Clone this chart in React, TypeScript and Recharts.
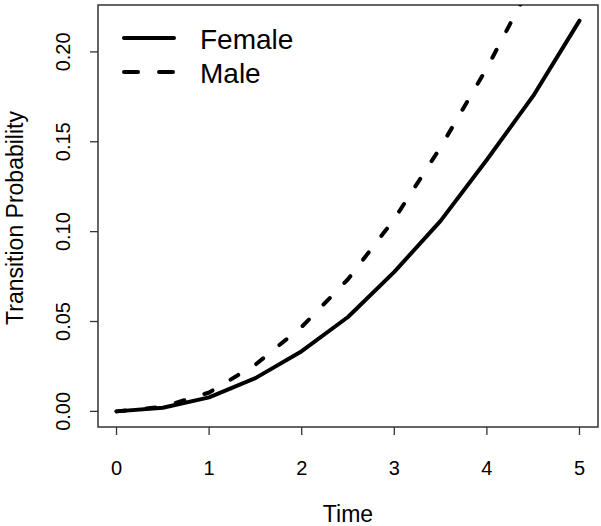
import React from "react";
import { LineChart, Line, XAxis, YAxis, ReferenceArea } from "recharts";

// values, every half time unit
const times = [0, 0.5, 1, 1.5, 2, 2.5, 3, 3.5, 4, 4.5, 5];
const female = [0, 0.002, 0.0078, 0.0185, 0.0335, 0.0525, 0.0776, 0.106, 0.14, 0.1755, 0.2174];
const male = [0, 0.0025, 0.0105, 0.026, 0.047, 0.0735, 0.107, 0.147, 0.191, 0.24, 0.294];

const seriesNames = ["Female", "Male"];
const xTicks = [0, 1, 2, 3, 4, 5];
const yTicks = [0, 0.05, 0.1, 0.15, 0.2];
const yTickLabels = ["0.00", "0.05", "0.10", "0.15", "0.20"];

const FONT = "'Liberation Sans', Arial, Helvetica, sans-serif";
const MALE_DASH = "9 21";
const TICK_FONT = 20;

// R style axis padding: 4% on each side of the data range
const xMin = Math.min(...times);
const xMax = Math.max(...times);
const yMax = Math.max(...female);
const xDomain: [number, number] = [xMin - 0.04 * (xMax - xMin), xMax + 0.04 * (xMax - xMin)];
const yDomain: [number, number] = [-0.04 * yMax, 1.04 * yMax];

const data = times.map((t, i) => ({ time: t, female: female[i], male: male[i] }));

const XTick = (props: any) => {
  const { x, payload } = props;
  return (
    <text x={x} y={475} textAnchor="middle" style={{ fontSize: TICK_FONT, fontFamily: FONT }} fill="#000">
      {payload.value}
    </text>
  );
};

const YTick = (props: any) => {
  const { y, payload } = props;
  const idx = yTicks.indexOf(payload.value);
  return (
    <text
      x={70}
      y={y}
      transform={`rotate(-90, 70, ${y})`}
      textAnchor="middle"
      style={{ fontSize: TICK_FONT, fontFamily: FONT }}
      fill="#000"
    >
      {idx >= 0 ? yTickLabels[idx] : payload.value}
    </text>
  );
};

// legend drawn on top of the chart, like R's legend("topleft")
const LegendOverlay = () => (
  <svg
    width={220}
    height={80}
    style={{ position: "absolute", left: 108, top: 20, pointerEvents: "none" }}
  >
    {seriesNames.map((name, i) => {
      const ly = 18 + i * 34;
      return (
        <g key={name}>
          <line
            x1={16}
            x2={66}
            y1={ly}
            y2={ly}
            stroke="#000"
            strokeWidth={4}
            strokeLinecap="round"
            strokeDasharray={i === 1 ? "14 21" : undefined}
          />
          <text x={92} y={ly + 11} fontSize={28} fontFamily={FONT} fill="#000">
            {name}
          </text>
        </g>
      );
    })}
  </svg>
);

export default function App() {
  return (
    <div style={{ position: "absolute", left: 0, top: 0, width: 601, height: 526, background: "#fff" }}>
      <LineChart
        width={601}
        height={526}
        data={data}
        margin={{ top: 5, right: 3, bottom: 0, left: 0 }}
      >
        <XAxis
          dataKey="time"
          type="number"
          domain={xDomain}
          ticks={xTicks}
          allowDataOverflow
          height={99}
          axisLine={false}
          tickSize={8}
          tickLine={{ stroke: "#333", strokeWidth: 1.3 }}
          tick={<XTick />}
          label={() => (
            <text x={348} y={522} textAnchor="middle" fontSize={23} fontFamily={FONT} fill="#000">
              Time
            </text>
          )}
        />
        <YAxis
          type="number"
          domain={yDomain}
          ticks={yTicks}
          allowDataOverflow
          width={98}
          axisLine={false}
          tickSize={8}
          tickLine={{ stroke: "#333", strokeWidth: 1.3 }}
          tick={<YTick />}
          label={() => (
            <text
              x={23}
              y={218}
              transform="rotate(-90, 23, 218)"
              textAnchor="middle"
              fontSize={23}
              fontFamily={FONT}
              fill="#000"
            >
              Transition Probability
            </text>
          )}
        />
        <ReferenceArea
          x1={xDomain[0]}
          x2={xDomain[1]}
          y1={yDomain[0]}
          y2={yDomain[1]}
          fill="none"
          stroke="#333"
          strokeWidth={1.5}
        />
        <Line
          type="linear"
          dataKey="female"
          name={seriesNames[0]}
          stroke="#000"
          strokeWidth={4}
          strokeLinejoin="round"
          strokeLinecap="round"
          dot={false}
          isAnimationActive={false}
        />
        <Line
          type="linear"
          dataKey="male"
          name={seriesNames[1]}
          stroke="#000"
          strokeWidth={4}
          strokeLinejoin="round"
          strokeLinecap="round"
          strokeDasharray={MALE_DASH}
          dot={false}
          isAnimationActive={false}
        />
      </LineChart>
      <LegendOverlay />
    </div>
  );
}
